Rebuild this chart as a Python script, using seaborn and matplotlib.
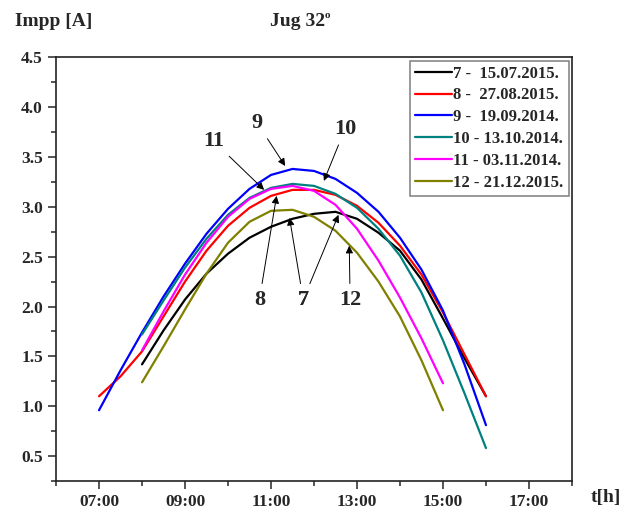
import pandas as pd
import matplotlib.pyplot as plt
from matplotlib.ticker import MultipleLocator, FixedLocator
import seaborn as sns

# Impp [A] every half hour
t_full = [7.0, 7.5, 8.0, 8.5, 9.0, 9.5, 10.0, 10.5, 11.0, 11.5, 12.0, 12.5,
          13.0, 13.5, 14.0, 14.5, 15.0, 15.5, 16.0]
t_8_16 = t_full[2:]
t_8_15 = t_full[2:17]

i_7 = [1.42, 1.76, 2.07, 2.33, 2.53, 2.69, 2.80, 2.88, 2.93, 2.95, 2.88, 2.74,
       2.56, 2.27, 1.88, 1.48, 1.10]
i_8 = [1.10, 1.30, 1.55, 1.90, 2.25, 2.56, 2.81, 2.99, 3.11, 3.17, 3.17, 3.12,
       3.01, 2.84, 2.61, 2.32, 1.94, 1.52, 1.10]
i_9 = [0.96, 1.36, 1.74, 2.10, 2.43, 2.73, 2.98, 3.18, 3.32, 3.38, 3.36, 3.28,
       3.14, 2.95, 2.69, 2.37, 1.96, 1.42, 0.81]
i_10 = [1.72, 2.06, 2.39, 2.68, 2.92, 3.09, 3.19, 3.23, 3.21, 3.13, 2.99, 2.78,
        2.51, 2.14, 1.66, 1.13, 0.58]
i_11 = [1.56, 1.95, 2.32, 2.64, 2.90, 3.08, 3.18, 3.21, 3.16, 3.02, 2.78, 2.46,
        2.09, 1.68, 1.23]
i_12 = [1.24, 1.60, 1.97, 2.33, 2.64, 2.85, 2.96, 2.97, 2.90, 2.76, 2.54, 2.25,
        1.90, 1.46, 0.96]

labels = ["7 -  15.07.2015.", "8 -  27.08.2015.", "9 -  19.09.2014.",
          "10 - 13.10.2014.", "11 - 03.11.2014.", "12 - 21.12.2015."]
colors = ["#000000", "#ff0000", "#0000ff", "#008080", "#ff00ff", "#808000"]
series = [(t_8_16, i_7), (t_full, i_8), (t_full, i_9), (t_8_16, i_10),
          (t_8_15, i_11), (t_8_15, i_12)]

x_major = [7, 9, 11, 13, 15, 17]
x_labels = ["07:00", "09:00", "11:00", "13:00", "15:00", "17:00"]

sns.set_style("ticks")
plt.rcParams["font.family"] = ["Liberation Serif", "DejaVu Serif"]
plt.rcParams["font.weight"] = "bold"

fig = plt.figure(figsize=(6.26, 5.11), dpi=100)
ax = fig.add_axes([0.0895, 0.0587, 0.8242, 0.8292])

for (t, i), lab, c in zip(series, labels, colors):
    df = pd.DataFrame({"t": t, "I": i})
    sns.lineplot(data=df, x="t", y="I", color=c, lw=1.6, label=lab, ax=ax)

ax.set_xlim(6, 18)
ax.set_ylim(0.25, 4.5)
ax.xaxis.set_major_locator(FixedLocator(x_major))
ax.set_xticklabels(x_labels)
ax.xaxis.set_minor_locator(FixedLocator([6, 8, 10, 12, 14, 16, 18]))
ax.yaxis.set_major_locator(MultipleLocator(0.5))
ax.yaxis.set_minor_locator(MultipleLocator(0.25))
ax.set_xlabel("")
ax.set_ylabel("")
ax.tick_params(which="major", length=6, width=1.1, labelsize=12.5, direction="out")
ax.tick_params(which="minor", length=3.5, width=1.1, direction="out")
for lbl in ax.get_xticklabels() + ax.get_yticklabels():
    lbl.set_fontweight("bold")
for s in ax.spines.values():
    s.set_linewidth(1.2)
    s.set_color("#222222")

leg = ax.legend(loc="upper right", fontsize=12, handlelength=2.2, handletextpad=0.1,
                labelspacing=0.35, borderaxespad=0.2, borderpad=0.3,
                fancybox=False, framealpha=1, edgecolor="#888888")
leg.get_frame().set_linewidth(1.2)
for txt in leg.get_texts():
    txt.set_fontweight("bold")

# curve labels with arrows: (text, label xy, arrow head xy)
notes = [("9", (10.68, 3.84), (11.33, 3.41)),
         ("11", (9.66, 3.66), (10.84, 3.17)),
         ("10", (12.72, 3.78), (12.23, 3.26)),
         ("8", (10.73, 2.07), (11.13, 3.11)),
         ("7", (11.75, 2.07), (11.43, 2.89)),
         ("7", (11.75, 2.07), (12.57, 2.92)),
         ("12", (12.84, 2.07), (12.82, 2.61))]
for txt, pos, head in notes:
    ax.annotate(txt, xy=head, xytext=pos, ha="center", va="center",
                fontsize=16, fontweight="bold",
                arrowprops=dict(arrowstyle="-|>", color="black", lw=0.7,
                                mutation_scale=11, shrinkA=2, shrinkB=0))

fig.text(0.024, 0.957, "Impp [A]", ha="left", va="center", fontsize=14, fontweight="bold")
jug = fig.text(0.431, 0.957, "Jug 32", ha="left", va="center", fontsize=14, fontweight="bold")
ax.annotate("o", xy=(1.0, 1.12), xycoords=jug, ha="left", va="top", fontsize=8,
            fontweight="bold", annotation_clip=False)
fig.text(0.968, 0.027, "t[h]", ha="center", va="center", fontsize=14, fontweight="bold")

fig.savefig("out.png", dpi=100)
